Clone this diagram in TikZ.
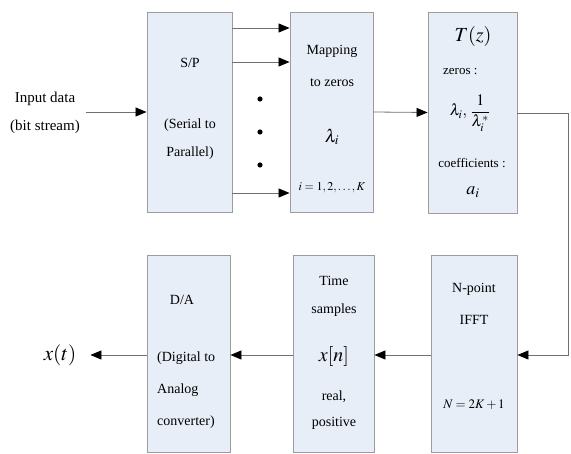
\documentclass[tikz,border=0pt]{standalone}
\usepackage{amsmath}
\usepackage{mathptmx}
\usepackage[no-math]{fontspec}
\setmainfont{Liberation Serif}
\usetikzlibrary{arrows.meta}
\definecolor{boxfill}{HTML}{E8EEF7}
\definecolor{boxline}{HTML}{9C9C9C}
\definecolor{wirecol}{HTML}{707070}
\tikzset{
  blk/.style={draw=boxline,fill=boxfill,line width=0.9pt,inner sep=0pt},
  txt/.style={font=\fontsize{14}{30}\selectfont,inner sep=0pt,align=center},
  small/.style={font=\fontsize{13}{15}\selectfont,inner sep=0pt},
  sym/.style={font=\fontsize{20}{22}\selectfont,inner sep=0pt},
  wire/.style={draw=wirecol,line width=0.8pt},
  sig/.style={wire,-{Triangle[length=11pt,width=9pt,color=black]}}
}
\begin{document}
\begin{tikzpicture}[x=1pt,y=-1pt]
  \useasboundingbox (0,0) rectangle (571,454);

  % blocs du haut
  \node[blk,minimum width=85pt,minimum height=200pt] (sp) at (189.5,112) {};
  \node[blk,minimum width=83pt,minimum height=200pt] (map) at (331.5,112) {};
  \node[blk,minimum width=89pt,minimum height=201pt] (tz) at (472.5,112.5) {};
  % blocs du bas
  \node[blk,minimum width=83pt,minimum height=197pt] (da) at (188.5,353.5) {};
  \node[blk,minimum width=81pt,minimum height=197pt] (ts) at (333.5,353.5) {};
  \node[blk,minimum width=86pt,minimum height=197pt] (ifft) at (474,353.5) {};

  % entree
  \node[txt,font=\fontsize{15}{28}\selectfont] (inp) at (45,113) {Input data\\(bit stream)};
  \draw[sig,shorten <=6pt] (inp.east |- sp) -- (sp.west);

  % S/P
  \node[txt] (sp-t) at (190,63) {S/P};
  \node[txt,font=\fontsize{14}{28}\selectfont] (sp-d) at (190,139) {(Serial to\\Parallel)};
  \foreach \yy in {28,62,193}
    \draw[sig] (sp.east |- 0,\yy) -- (map.west |- 0,\yy);
  \foreach \yy in {99,132,165}
    \fill (260,\yy) circle (2.6pt);

  % mapping
  \node[txt,font=\fontsize{14}{32}\selectfont] (map-t) at (332,66) {Mapping\\to zeros};
  \node[sym,font=\fontsize{18}{20}\selectfont] (lam) at (332,137) {$\lambda_i$};
  \node[small,font=\fontsize{12}{14}\selectfont] (idx) at (332,188) {$i=1,2,\ldots,K$};
  \draw[sig] (map.east) -- (tz.west);

  % T(z)
  \node[sym] (tz-t) at (473,37) {$T(z)$};
  \node[small,anchor=west] (zer) at (443,72) {zeros :};
  \node[sym,font=\fontsize{16}{18}\selectfont] (roots) at (470,113) {$\lambda_i,\,\dfrac{1}{\lambda_i^{*}}$};
  \node[small] (coef) at (472,163) {coefficients :};
  \node[sym,font=\fontsize{18}{20}\selectfont] (ai) at (473,192) {$a_i$};

  % retour vers la IFFT
  \coordinate (turn) at (568,113);
  \draw[sig] (tz.east |- turn) -- (turn) -- (turn |- 0,355) -- (ifft.east |- 0,355);

  % IFFT
  \node[txt,font=\fontsize{14}{32}\selectfont] (ifft-t) at (474,304) {N-point\\IFFT};
  \node[small,font=\fontsize{13}{15}\selectfont] (nn) at (474,405) {$N=2K+1$};
  \draw[sig] (ifft.west |- 0,355) -- (ts.east |- 0,355);

  % echantillons
  \node[txt,font=\fontsize{14}{28}\selectfont] (ts-t) at (334,296) {Time\\samples};
  \node[sym] (xn) at (334,357) {$x[n]$};
  \node[txt,font=\fontsize{14}{26}\selectfont] (ts-d) at (334,410) {real,\\positive};
  \draw[sig] (ts.west |- 0,355) -- (da.east |- 0,355);

  % D/A
  \node[txt] (da-t) at (182,300) {D/A};
  \node[txt,align=left,anchor=west,font=\fontsize{14}{32}\selectfont] (da-d) at (157,390) {(Digital to\\Analog\\converter)};

  % sortie
  \node[sym,font=\fontsize{21}{23}\selectfont] (xt) at (60,355) {$x(t)$};
  \draw[sig,shorten >=14pt] (da.west |- 0,355) -- (xt.east |- 0,355);
\end{tikzpicture}
\end{document}
